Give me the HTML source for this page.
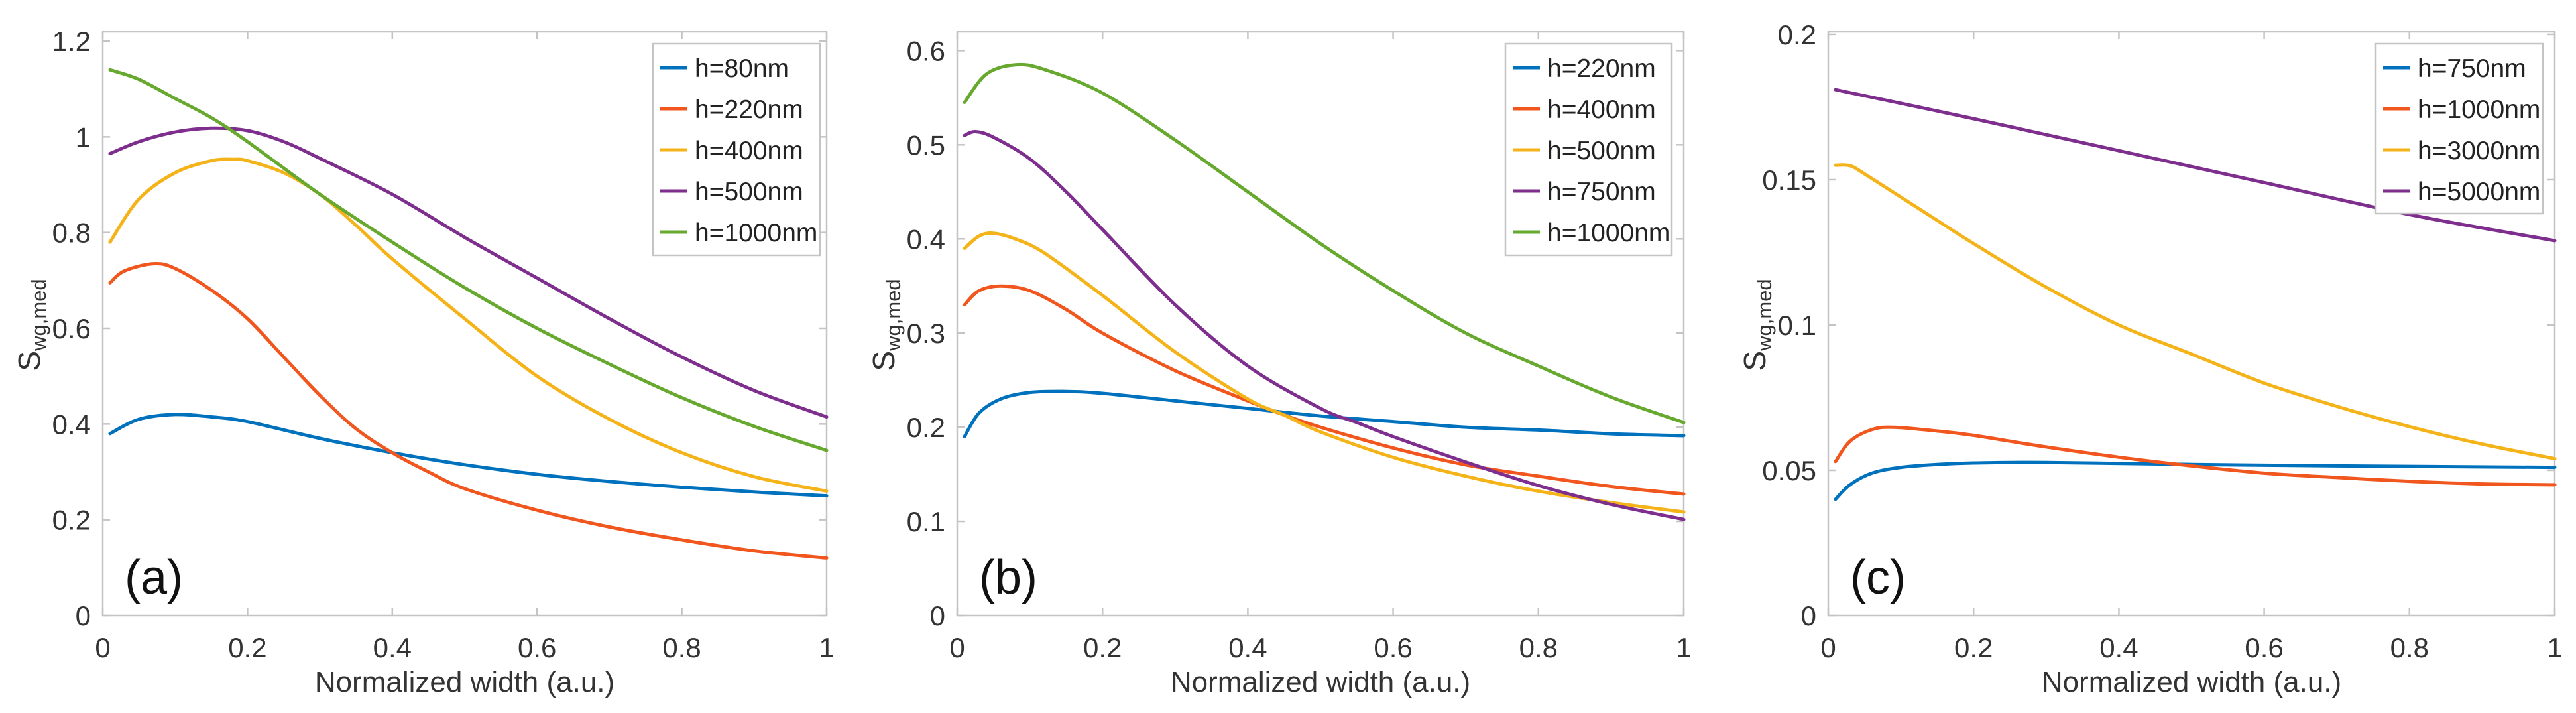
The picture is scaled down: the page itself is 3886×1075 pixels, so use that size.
<!DOCTYPE html>
<html><head><meta charset="utf-8"><style>
html,body{margin:0;padding:0;background:#fff;}
svg{display:block;font-family:"Liberation Sans",sans-serif;}
</style></head><body>
<svg id="fig" width="3886" height="1075" viewBox="0 0 3886 1075" xmlns="http://www.w3.org/2000/svg"></svg>
<script>
const xTicks=[0,0.2,0.4,0.6,0.8,1];
const xTickLabels=["0","0.2","0.4","0.6","0.8","1"];
const colors=["#0072BD","#F0561D","#F5B31A","#7E2F8E","#67A82F"];
// Panel (a)
const aLabels=["h=80nm","h=220nm","h=400nm","h=500nm","h=1000nm"];
const aYTicks=[0,0.2,0.4,0.6,0.8,1,1.2];
const aYTickLabels=["0","0.2","0.4","0.6","0.8","1","1.2"];
const aX80=[0.01,0.05,0.1,0.15,0.2,0.3,0.4,0.5,0.6,0.7,0.8,0.9,1.0];
const aY80=[0.38,0.41,0.42,0.415,0.405,0.37,0.34,0.315,0.295,0.28,0.268,0.258,0.25];
const aX220=[0.01,0.03,0.07,0.1,0.15,0.2,0.25,0.3,0.35,0.4,0.45,0.5,0.6,0.7,0.8,0.9,1.0];
const aY220=[0.695,0.72,0.735,0.725,0.68,0.62,0.54,0.46,0.39,0.34,0.3,0.265,0.22,0.185,0.158,0.135,0.12];
const aX400=[0.01,0.05,0.1,0.15,0.18,0.2,0.25,0.3,0.35,0.4,0.5,0.6,0.7,0.8,0.9,1.0];
const aY400=[0.78,0.87,0.925,0.95,0.953,0.95,0.925,0.88,0.815,0.745,0.62,0.5,0.41,0.34,0.29,0.26];
const aX500=[0.01,0.05,0.1,0.15,0.2,0.25,0.3,0.4,0.5,0.6,0.7,0.8,0.9,1.0];
const aY500=[0.965,0.99,1.01,1.018,1.013,0.99,0.955,0.88,0.79,0.705,0.62,0.54,0.47,0.415];
const aX1000=[0.01,0.05,0.1,0.15,0.2,0.3,0.4,0.5,0.6,0.7,0.8,0.9,1.0];
const aY1000=[1.14,1.12,1.08,1.04,0.99,0.88,0.78,0.685,0.6,0.525,0.455,0.395,0.345];
// Panel (b)
const bLabels=["h=220nm","h=400nm","h=500nm","h=750nm","h=1000nm"];
const bYTicks=[0,0.1,0.2,0.3,0.4,0.5,0.6];
const bYTickLabels=["0","0.1","0.2","0.3","0.4","0.5","0.6"];
const bX220=[0.01,0.03,0.06,0.1,0.15,0.2,0.3,0.4,0.5,0.6,0.7,0.8,0.9,1.0];
const bY220=[0.19,0.215,0.23,0.237,0.238,0.236,0.228,0.22,0.212,0.206,0.2,0.197,0.193,0.191];
const bX400=[0.01,0.03,0.06,0.1,0.15,0.2,0.3,0.4,0.45,0.5,0.6,0.7,0.8,0.9,1.0];
const bY400=[0.33,0.345,0.35,0.345,0.325,0.3,0.26,0.228,0.213,0.2,0.178,0.16,0.148,0.137,0.129];
const bX500=[0.01,0.03,0.05,0.08,0.12,0.2,0.3,0.4,0.45,0.5,0.6,0.7,0.8,0.9,1.0];
const bY500=[0.39,0.403,0.406,0.4,0.385,0.34,0.28,0.23,0.213,0.195,0.168,0.148,0.132,0.12,0.11];
const bX750=[0.01,0.025,0.05,0.1,0.15,0.2,0.3,0.4,0.5,0.55,0.6,0.7,0.8,0.9,1.0];
const bY750=[0.51,0.514,0.508,0.485,0.45,0.41,0.33,0.265,0.22,0.205,0.19,0.163,0.138,0.118,0.102];
const bX1000=[0.01,0.04,0.08,0.12,0.2,0.3,0.4,0.5,0.6,0.7,0.8,0.9,1.0];
const bY1000=[0.545,0.575,0.585,0.58,0.555,0.505,0.45,0.395,0.345,0.3,0.265,0.232,0.205];
// Panel (c)
const cLabels=["h=750nm","h=1000nm","h=3000nm","h=5000nm"];
const cYTicks=[0,0.05,0.1,0.15,0.2];
const cYTickLabels=["0","0.05","0.1","0.15","0.2"];
const cX750=[0.01,0.03,0.06,0.1,0.15,0.2,0.3,0.5,0.7,1.0];
const cY750=[0.04,0.045,0.049,0.051,0.052,0.0525,0.0527,0.052,0.0515,0.051];
const cX1000=[0.01,0.03,0.06,0.09,0.15,0.2,0.3,0.4,0.5,0.6,0.7,0.8,0.9,1.0];
const cY1000=[0.053,0.06,0.064,0.0648,0.0635,0.062,0.058,0.0545,0.0515,0.049,0.0475,0.0462,0.0453,0.045];
const cX3000=[0.01,0.03,0.05,0.1,0.15,0.2,0.3,0.4,0.5,0.6,0.7,0.8,0.9,1.0];
const cY3000=[0.155,0.1548,0.152,0.144,0.136,0.128,0.113,0.1,0.09,0.08,0.072,0.065,0.059,0.054];
const cX5000=[0.01,0.2,0.4,0.6,0.8,1.0];
const cY5000=[0.181,0.171,0.16,0.149,0.138,0.129];

const NS="http://www.w3.org/2000/svg";
const svg=document.getElementById('fig');
function mk(tag,attrs,parent){const e=document.createElementNS(NS,tag);for(const k in attrs)e.setAttribute(k,attrs[k]);(parent||svg).appendChild(e);return e;}
function smooth(pts){
  let d="M"+pts[0][0].toFixed(1)+","+pts[0][1].toFixed(1);
  for(let i=0;i<pts.length-1;i++){
    const p0=pts[Math.max(0,i-1)],p1=pts[i],p2=pts[i+1],p3=pts[Math.min(pts.length-1,i+2)];
    const c1x=p1[0]+(p2[0]-p0[0])/6,c1y=p1[1]+(p2[1]-p0[1])/6;
    const c2x=p2[0]-(p3[0]-p1[0])/6,c2y=p2[1]-(p3[1]-p1[1])/6;
    d+=" C"+c1x.toFixed(1)+","+c1y.toFixed(1)+" "+c2x.toFixed(1)+","+c2y.toFixed(1)+" "+p2[0].toFixed(1)+","+p2[1].toFixed(1);
  }
  return d;
}
function panel(cfg){
  const g=mk('g',{});
  
  
  const L=cfg.left,R=cfg.right,T=48,B=928;
  const sx=v=>L+v*(R-L);
  const sy=v=>B-v*(B-T)/cfg.ymax;
  const box=mk('rect',{x:L,y:T,width:R-L,height:B-T,fill:'none',stroke:'#c4c4c4','stroke-width':2.5},g);
  
  
  xTicks.forEach((t,i)=>{
    const x=sx(t);
    mk('line',{x1:x,y1:B,x2:x,y2:B-11,stroke:'#c4c4c4','stroke-width':2.5},g);
    mk('line',{x1:x,y1:T,x2:x,y2:T+11,stroke:'#c4c4c4','stroke-width':2.5},g);
    const tx=mk('text',{x:x,y:B+63,'font-size':42,fill:'#333','text-anchor':'middle'},g);
    tx.textContent=xTickLabels[i];
    
    
  });
  cfg.yTicks.forEach((t,i)=>{
    const y=sy(t);
    mk('line',{x1:L,y1:y,x2:L+11,y2:y,stroke:'#c4c4c4','stroke-width':2.5},g);
    mk('line',{x1:R,y1:y,x2:R-11,y2:y,stroke:'#c4c4c4','stroke-width':2.5},g);
    const tx=mk('text',{x:L-18,y:y+15,'font-size':42,fill:'#333','text-anchor':'end'},g);
    tx.textContent=cfg.yTickLabels[i];
    
    
  });
  const xt=mk('text',{x:(L+R)/2,y:1043,'font-size':44,fill:'#333','text-anchor':'middle'},g);
  xt.textContent='Normalized width (a.u.)';
  
  
  const yt=mk('text',{x:0,y:0,'font-size':46,fill:'#333','text-anchor':'middle',transform:'translate('+(L-95)+',490) rotate(-90)'},g);
  
  
  const s1=mk('tspan',{},yt);s1.textContent='S';
  const s2=mk('tspan',{'font-size':31,dy:9},yt);s2.textContent='wg,med';
  cfg.series.forEach((s,i)=>{
    const pts=s[0].map((xv,k)=>[sx(xv),sy(s[1][k])]);
    const p=mk('path',{d:smooth(pts),fill:'none',stroke:colors[i],'stroke-width':5,'stroke-linejoin':'round','stroke-linecap':'round'},g);
    
    
  });
  const pl=mk('text',{x:L+33,y:895,'font-size':72,fill:'#111'},g);
  pl.textContent='('+cfg.id+')';
  
  
  const lg=mk('g',{},g);
  
  
  const n=cfg.labels.length;
  mk('rect',{x:cfg.legX,y:66,width:cfg.legW,height:n*63+4,fill:'#fff',stroke:'#c4c4c4','stroke-width':2.5},lg);
  cfg.labels.forEach((lab,i)=>{
    const y=102+i*62;
    const e=mk('g',{},lg);
    
    
    mk('line',{x1:cfg.legX+11,y1:y,x2:cfg.legX+52,y2:y,stroke:colors[i],'stroke-width':5},e);
    const t=mk('text',{x:cfg.legX+63,y:y+14,'font-size':39,fill:'#222'},e);
    t.textContent=lab;
  });
}
panel({id:'a',left:155,right:1247,ymax:1.2194,yTicks:aYTicks,yTickLabels:aYTickLabels,labels:aLabels,legX:985,legW:252,
  series:[[aX80,aY80],[aX220,aY220],[aX400,aY400],[aX500,aY500],[aX1000,aY1000]]});
panel({id:'b',left:1444,right:2540,ymax:0.62,yTicks:bYTicks,yTickLabels:bYTickLabels,labels:bLabels,legX:2271,legW:251,
  series:[[bX220,bY220],[bX400,bY400],[bX500,bY500],[bX750,bY750],[bX1000,bY1000]]});
panel({id:'c',left:2758,right:3854,ymax:0.2009,yTicks:cYTicks,yTickLabels:cYTickLabels,labels:cLabels,legX:3584,legW:252,
  series:[[cX750,cY750],[cX1000,cY1000],[cX3000,cY3000],[cX5000,cY5000]]});
</script>
</body></html>
